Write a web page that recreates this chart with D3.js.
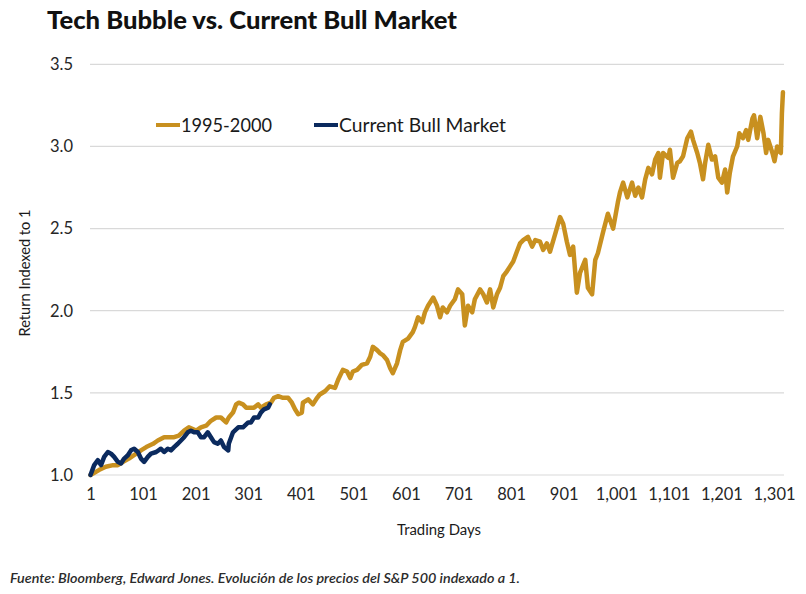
<!DOCTYPE html>
<html><head><meta charset="utf-8">
<script src="https://cdn.jsdelivr.net/npm/d3@7"></script>
<style>body{margin:0;background:#fff;}svg{display:block;}</style>
</head><body>
<script>
const title = "Tech Bubble vs. Current Bull Market";
const yTicks = [1.0, 1.5, 2.0, 2.5, 3.0, 3.5];
const xTicks = [1, 101, 201, 301, 401, 501, 601, 701, 801, 901, 1001, 1101, 1201, 1301];
const seriesNames = ["1995-2000", "Current Bull Market"];

const techDays = [1,17,30,44,53,63,74,88,97,107,120,129,141,150,160,169,179,188,202,211,221,230,240,249,259,264,272,278,283,291,297,302,312,320,325,335,344,350,358,367,377,384,390,396,403,405,415,424,432,437,447,456,466,472,481,489,495,500,508,517,527,533,538,546,552,557,565,571,576,584,590,595,605,614,618,624,632,637,643,653,660,666,671,679,685,694,700,708,713,719,727,732,742,748,755,761,767,774,780,786,793,799,805,812,818,824,833,841,847,856,862,869,875,885,894,900,907,913,919,926,932,942,947,955,961,966,976,985,995,1004,1008,1014,1022,1031,1037,1043,1050,1056,1062,1069,1075,1081,1084,1090,1100,1103,1109,1117,1122,1128,1136,1143,1147,1155,1160,1166,1170,1176,1183,1189,1195,1202,1208,1212,1217,1223,1231,1235,1242,1248,1252,1260,1263,1269,1275,1281,1286,1290,1298,1302,1307,1311,1314,1316,1318];
const techValues = [1.00,1.03,1.05,1.06,1.06,1.08,1.10,1.13,1.15,1.17,1.19,1.21,1.23,1.23,1.23,1.24,1.27,1.29,1.27,1.29,1.30,1.33,1.35,1.35,1.32,1.35,1.38,1.43,1.44,1.43,1.41,1.41,1.41,1.43,1.41,1.43,1.44,1.47,1.48,1.47,1.47,1.44,1.40,1.37,1.38,1.44,1.46,1.43,1.47,1.49,1.51,1.54,1.53,1.58,1.64,1.63,1.59,1.63,1.64,1.67,1.68,1.72,1.78,1.76,1.74,1.73,1.70,1.65,1.62,1.68,1.76,1.81,1.83,1.87,1.90,1.96,1.93,1.99,2.03,2.08,2.03,1.96,2.02,1.99,2.03,2.07,2.13,2.10,1.91,2.03,1.99,2.07,2.13,2.10,2.05,2.13,2.02,2.10,2.14,2.21,2.24,2.27,2.30,2.36,2.41,2.43,2.45,2.39,2.43,2.42,2.37,2.41,2.36,2.47,2.57,2.53,2.42,2.34,2.39,2.11,2.23,2.31,2.14,2.10,2.31,2.35,2.48,2.59,2.50,2.66,2.72,2.78,2.69,2.78,2.70,2.75,2.69,2.80,2.87,2.83,2.92,2.96,2.81,2.96,2.93,2.98,2.81,2.90,2.91,2.94,3.05,3.09,3.04,2.96,2.90,2.80,2.90,3.01,2.92,2.94,2.81,2.78,2.86,2.72,2.84,2.94,3.00,3.08,3.05,3.10,3.04,3.17,3.19,3.05,3.18,3.08,2.96,3.04,2.96,2.91,3.00,2.97,2.96,3.20,3.33];

const bullDays = [1,8,15,21,27,34,40,46,53,59,65,72,78,84,91,97,103,110,116,126,135,141,148,154,160,167,173,179,186,192,198,205,211,217,224,230,236,243,249,255,263,264,272,282,291,301,306,312,320,325,331,339,342];
const bullValues = [1.00,1.06,1.09,1.06,1.11,1.14,1.13,1.11,1.08,1.07,1.10,1.12,1.15,1.16,1.14,1.10,1.08,1.11,1.13,1.14,1.16,1.14,1.16,1.15,1.17,1.19,1.21,1.23,1.26,1.27,1.26,1.26,1.23,1.23,1.26,1.23,1.20,1.19,1.21,1.17,1.15,1.19,1.26,1.29,1.29,1.32,1.32,1.35,1.35,1.38,1.40,1.41,1.43];

const W = 806, H = 594;
const gold = "#C8901F", navy = "#0B2A5E";
const svg = d3.select("body").append("svg").attr("width", W).attr("height", H);
svg.append("rect").attr("width", W).attr("height", H).attr("fill", "#fff");

const x = d3.scaleLinear().domain([1, 1320]).range([90.5, 784]);
const y = d3.scaleLinear().domain([1.0, 3.5]).range([475, 64.3]);
const font = "Lato, 'Open Sans', sans-serif";

// gridlines
svg.append("g").selectAll("line").data(yTicks).join("line")
  .attr("x1", 90).attr("x2", 784)
  .attr("y1", d => y(d)).attr("y2", d => y(d))
  .attr("stroke", "#d9d9d9").attr("stroke-width", 1.2);

// y axis labels
const yAxis = d3.axisLeft(y).tickValues(yTicks).tickFormat(d3.format(".1f")).tickSize(0).tickPadding(0);
const gy = svg.append("g").attr("transform", "translate(73,0)").call(yAxis);
gy.select(".domain").remove();
gy.selectAll("text").attr("font-family", font).attr("font-size", 16.5).attr("fill", "#262626");

// x axis labels
const xAxis = d3.axisBottom(x).tickValues(xTicks).tickFormat(d3.format(",")).tickSize(0).tickPadding(0);
const gx = svg.append("g").attr("transform", "translate(0,488)").call(xAxis);
gx.select(".domain").remove();
gx.selectAll("text").attr("font-family", font).attr("font-size", 16.5).attr("fill", "#262626");

// lines
const line = d3.line().x(d => x(d[0])).y(d => y(d[1])).curve(d3.curveLinear);
svg.append("path").datum(techDays.map((d, i) => [d, techValues[i]]))
  .attr("d", line).attr("fill", "none").attr("stroke", gold)
  .attr("stroke-width", 4.5).attr("stroke-linejoin", "round").attr("stroke-linecap", "round");
svg.append("path").datum(bullDays.map((d, i) => [d, bullValues[i]]))
  .attr("d", line).attr("fill", "none").attr("stroke", navy)
  .attr("stroke-width", 4.5).attr("stroke-linejoin", "round").attr("stroke-linecap", "round");

// legend
const legend = [
  {name: seriesNames[0], color: gold, x0: 156, len: 91},
  {name: seriesNames[1], color: navy, x0: 314, len: 167}
];
const lg = svg.append("g");
legend.forEach(l => {
  lg.append("line").attr("x1", l.x0).attr("x2", l.x0 + 24).attr("y1", 125).attr("y2", 125)
    .attr("stroke", l.color).attr("stroke-width", 4);
  lg.append("text").attr("x", l.x0 + 25).attr("y", 131.5).text(l.name)
    .attr("textLength", l.len).attr("lengthAdjust", "spacingAndGlyphs")
    .attr("font-family", font).attr("font-size", 19).attr("fill", "#1a1a1a");
});

// title
svg.append("text").attr("x", 47).attr("y", 29).text(title)
  .attr("textLength", 410).attr("lengthAdjust", "spacingAndGlyphs")
  .attr("font-family", font).attr("font-weight", 900).attr("font-size", 25).attr("fill", "#111");

// axis titles
svg.append("text").attr("x", 439).attr("y", 535).attr("text-anchor", "middle").text("Trading Days")
  .attr("textLength", 84).attr("lengthAdjust", "spacingAndGlyphs")
  .attr("font-family", font).attr("font-size", 15.5).attr("fill", "#1a1a1a");
svg.append("text").attr("transform", "translate(30,273) rotate(-90)").attr("text-anchor", "middle")
  .text("Return Indexed to 1")
  .attr("textLength", 127).attr("lengthAdjust", "spacingAndGlyphs")
  .attr("font-family", font).attr("font-size", 15.5).attr("fill", "#1a1a1a");

// footer
svg.append("text").attr("x", 10).attr("y", 583)
  .text("Fuente: Bloomberg, Edward Jones. Evolución de los precios del S&P 500 indexado a 1.")
  .attr("textLength", 510).attr("lengthAdjust", "spacingAndGlyphs")
  .attr("font-family", font).attr("font-style", "italic").attr("font-weight", 600)
  .attr("font-size", 14).attr("fill", "#2b2b2b");
</script>
</body></html>
